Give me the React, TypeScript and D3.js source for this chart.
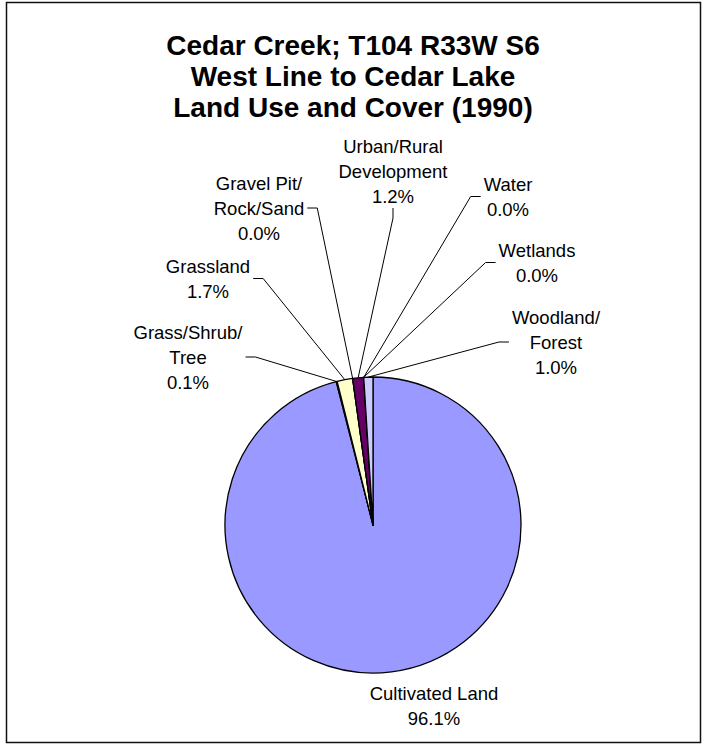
import { useEffect, useRef } from 'react';
import * as d3 from 'd3';

// chart data (alphabetical, as in the source sheet)
const categories = [
  'Cultivated Land',
  'Grass/Shrub/Tree',
  'Grassland',
  'Gravel Pit/Rock/Sand',
  'Urban/Rural Development',
  'Water',
  'Wetlands',
  'Woodland/Forest',
];
const percents = [96.1, 0.1, 1.7, 0.0, 1.2, 0.0, 0.0, 1.0];
const labelLines = [
  ['Cultivated Land'],
  ['Grass/Shrub/', 'Tree'],
  ['Grassland'],
  ['Gravel Pit/', 'Rock/Sand'],
  ['Urban/Rural', 'Development'],
  ['Water'],
  ['Wetlands'],
  ['Woodland/', 'Forest'],
];
const sliceColors = ['#9999FF', '#993366', '#FFFFCC', '#CCFFFF', '#660066', '#FF8080', '#0066CC', '#CCCCFF'];
const titleLines = ['Cedar Creek; T104 R33W S6', 'West Line to Cedar Lake', 'Land Use and Cover (1990)'];

// label placement (manual, like the excel layout): center x, first line y, leader side
const labelLayout: { x: number; y: number; side: 'none' | 'left' | 'right' | 'top' }[] = [
  { x: 434, y: 693, side: 'none' },
  { x: 188, y: 332, side: 'left' },
  { x: 208, y: 266, side: 'left' },
  { x: 259, y: 183, side: 'left' },
  { x: 393, y: 146, side: 'top' },
  { x: 508, y: 184, side: 'right' },
  { x: 537, y: 250, side: 'right' },
  { x: 556, y: 317, side: 'right' },
];

const W = 710;
const H = 746;
const FONT = "'Liberation Sans', Arial, sans-serif";

export default function App() {
  const ref = useRef<SVGSVGElement | null>(null);

  useEffect(() => {
    if (!ref.current) return;
    const svg = d3.select(ref.current);
    svg.selectAll('*').remove();

    // outer frame
    svg.append('rect')
      .attr('x', 6.5).attr('y', 2.5)
      .attr('width', 694).attr('height', 740)
      .attr('fill', '#fff')
      .attr('stroke', '#111')
      .attr('stroke-width', 1.5);

    // title
    svg.append('g')
      .selectAll('text')
      .data(titleLines)
      .enter()
      .append('text')
      .attr('x', 353)
      .attr('y', (_, i) => 55 + i * 31)
      .attr('text-anchor', 'middle')
      .style('font-family', FONT)
      .style('font-size', '28px')
      .style('font-weight', 'bold')
      .text(d => d);

    const cx = 373, cy = 525, r = 148;
    const pie = d3.pie<number>().sort(null).value(d => d);
    const arcs = pie(percents);
    const arc = d3.arc<d3.PieArcDatum<number>>().innerRadius(0).outerRadius(r);
    const edge = d3.arc<d3.PieArcDatum<number>>().innerRadius(r).outerRadius(r);

    const g = svg.append('g').attr('transform', `translate(${cx},${cy})`);
    g.selectAll('path.slice')
      .data(arcs)
      .enter()
      .append('path')
      .attr('class', 'slice')
      .attr('d', arc)
      .attr('fill', (_, i) => sliceColors[i])
      .attr('stroke', '#000')
      .attr('stroke-width', 1.3)
      .attr('stroke-linejoin', 'round');

    const fmt = d3.format('.1f');
    const lineH = 25;
    const labels = svg.append('g');

    arcs.forEach((d, i) => {
      const lay = labelLayout[i];
      const lines = [...labelLines[i], `${fmt(percents[i])}%`];
      const t = labels.append('g');
      const texts = t.selectAll('text')
        .data(lines)
        .enter()
        .append('text')
        .attr('x', lay.x)
        .attr('y', (_, j) => lay.y + j * lineH + 6.5)
        .attr('text-anchor', 'middle')
        .style('font-family', FONT)
        .style('font-size', '18.5px')
        .text(s => s);

      if (lay.side === 'none') return;
      let maxW = 0;
      texts.each(function () {
        maxW = Math.max(maxW, (this as SVGTextElement).getComputedTextLength());
      });
      const [px, py] = edge.centroid(d);
      const tip = [cx + px, cy + py];
      const midY = lay.y + ((lines.length - 1) * lineH) / 2;
      let p0: number[], p1: number[];
      if (lay.side === 'left') {
        p0 = [lay.x + maxW / 2 + 3, midY];
        p1 = [p0[0] + 10, midY];
      } else if (lay.side === 'right') {
        p0 = [lay.x - maxW / 2 - 3, midY];
        p1 = [p0[0] - 10, midY];
      } else {
        const bottom = lay.y + (lines.length - 1) * lineH + 12;
        p0 = [lay.x, bottom];
        p1 = [lay.x, bottom + 10];
      }
      labels.append('path')
        .attr('d', d3.line()([p0, p1, tip] as [number, number][]))
        .attr('fill', 'none')
        .attr('stroke', '#000')
        .attr('stroke-width', 1);
    });
  }, []);

  return (
    <svg
      ref={ref}
      width={W}
      height={H}
      style={{ position: 'absolute', left: 0, top: 0, background: '#fff' }}
    />
  );
}
